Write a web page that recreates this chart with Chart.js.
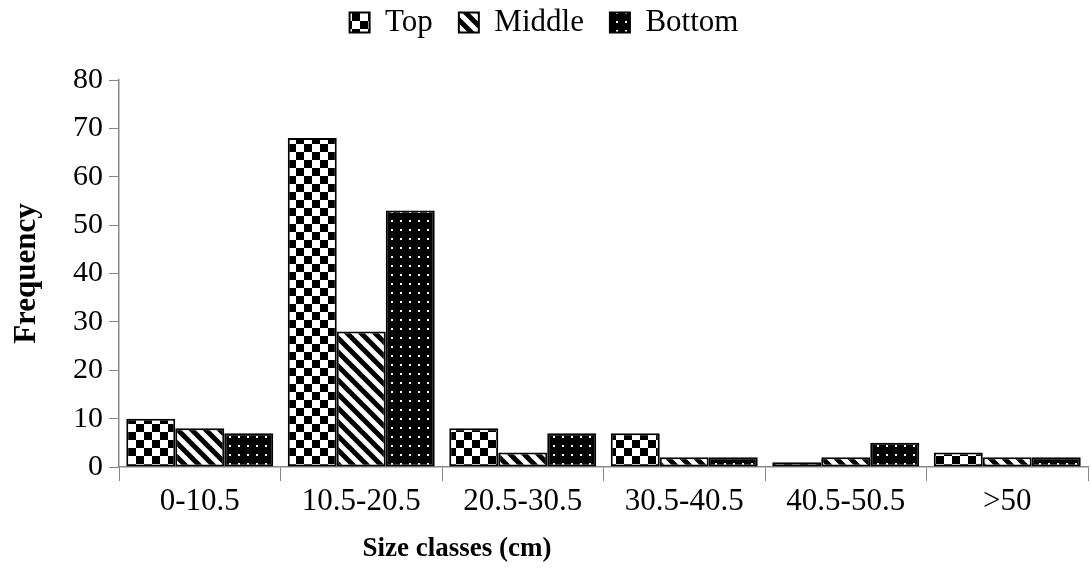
<!DOCTYPE html>
<html lang="en">
<head>
    <meta charset="UTF-8">
    <title>Size classes frequency</title>
    <script src="https://cdn.jsdelivr.net/npm/chart.js@4/dist/chart.umd.min.js"></script>
    <style>
        body { margin: 0; background: #fff; }
        .wrap { width: 1091px; height: 569px; }
    </style>
</head>
<body>
    <div class="wrap"><canvas id="chart"></canvas></div>
    <script>
        const sizeClasses = ['0-10.5', '10.5-20.5', '20.5-30.5', '30.5-40.5', '40.5-50.5', '>50'];
        const topValues = [10, 68, 8, 7, 1, 3];
        const middleValues = [8, 28, 3, 2, 2, 2];
        const bottomValues = [7, 53, 7, 2, 5, 2];
        const yTicks = [0, 10, 20, 30, 40, 50, 60, 70, 80];
        const xTitle = 'Size classes (cm)';

        const serif = '"Liberation Serif", "Times New Roman", serif';

        // fill patterns for the bars
        function makeTile(size, draw) {
            const c = document.createElement('canvas');
            c.width = size; c.height = size;
            const g = c.getContext('2d');
            draw(g, size);
            return g.createPattern(c, 'repeat');
        }
        const checker = makeTile(16, (g, s) => {
            g.fillStyle = '#fff'; g.fillRect(0, 0, s, s);
            g.fillStyle = '#000';
            g.fillRect(0, 0, 8, 8); g.fillRect(8, 8, 8, 8);
        });
        const stripes = makeTile(14, (g, s) => {
            g.fillStyle = '#fff'; g.fillRect(0, 0, s, s);
            g.strokeStyle = '#000'; g.lineWidth = 5; g.lineCap = 'square';
            for (let k = -1; k <= 1; k++) {
                g.beginPath(); g.moveTo(k * s, 0); g.lineTo(k * s + s, s); g.stroke();
            }
        });
        const dots = makeTile(9, (g, s) => {
            g.fillStyle = '#000'; g.fillRect(0, 0, s, s);
            g.fillStyle = '#fff'; g.fillRect(4, 4, 2, 2);
        });

        // legend: fixed height so the plot starts lower, drawn a bit higher so wider item spacing fits;
        // x title sits left of centre like the original
        const legendPad = 26;
        const layoutTweaks = {
            id: 'layoutTweaks',
            beforeUpdate(chart) {
                const lg = chart.legend;
                if (lg && !lg._patched) {
                    const fit = lg.fit;
                    lg.fit = function () { fit.call(this); this.height = 80; };
                    const draw = lg.draw;
                    lg.draw = function () {
                        const ctx = this.ctx;
                        ctx.save();
                        ctx.translate(0, 7 - legendPad);
                        draw.call(this);
                        ctx.restore();
                    };
                    lg._patched = true;
                }
            },
            afterDraw(chart) {
                const ctx = chart.ctx;
                ctx.save();
                ctx.font = 'bold 27px ' + serif;
                ctx.fillStyle = '#000';
                ctx.textAlign = 'center';
                ctx.textBaseline = 'middle';
                ctx.fillText(xTitle, 457, 549);
                ctx.restore();
            }
        };

        new Chart(document.getElementById('chart'), {
            type: 'bar',
            data: {
                labels: sizeClasses,
                datasets: [
                    { label: 'Top', data: topValues, backgroundColor: checker },
                    { label: 'Middle', data: middleValues, backgroundColor: stripes },
                    { label: 'Bottom', data: bottomValues, backgroundColor: dots }
                ].map(d => Object.assign(d, {
                    borderColor: '#000', borderWidth: 2, borderSkipped: false,
                    categoryPercentage: 0.91, barPercentage: 1.0
                }))
            },
            plugins: [layoutTweaks],
            options: {
                responsive: true,
                maintainAspectRatio: false,
                animation: false,
                layout: { padding: { top: 0, right: 3, left: 0, bottom: 0 } },
                plugins: {
                    tooltip: { enabled: false },
                    legend: {
                        position: 'top',
                        labels: {
                            color: '#000',
                            font: { family: serif, size: 31 },
                            boxWidth: 20, boxHeight: 20,
                            padding: legendPad
                        }
                    }
                },
                scales: {
                    x: {
                        grid: { drawOnChartArea: false, color: '#888', tickLength: 14, offset: true },
                        border: { color: '#888', width: 1.5 },
                        ticks: { color: '#000', font: { family: serif, size: 31 }, padding: 2, maxRotation: 0 },
                        afterFit: s => { s.height = 102; }
                    },
                    y: {
                        min: 0, max: 80,
                        afterBuildTicks: s => { s.ticks = yTicks.map(v => ({ value: v })); },
                        grid: { drawOnChartArea: false, color: '#888', tickLength: 10 },
                        border: { color: '#888', width: 1.5 },
                        ticks: { color: '#000', font: { family: serif, size: 30 }, padding: 6 },
                        title: {
                            display: true, text: 'Frequency', color: '#000',
                            font: { family: serif, size: 31, weight: 'bold' }, padding: { top: 8, bottom: 0 }
                        },
                        afterFit: s => { s.width = 119; }
                    }
                }
            }
        });
    </script>
</body>
</html>
